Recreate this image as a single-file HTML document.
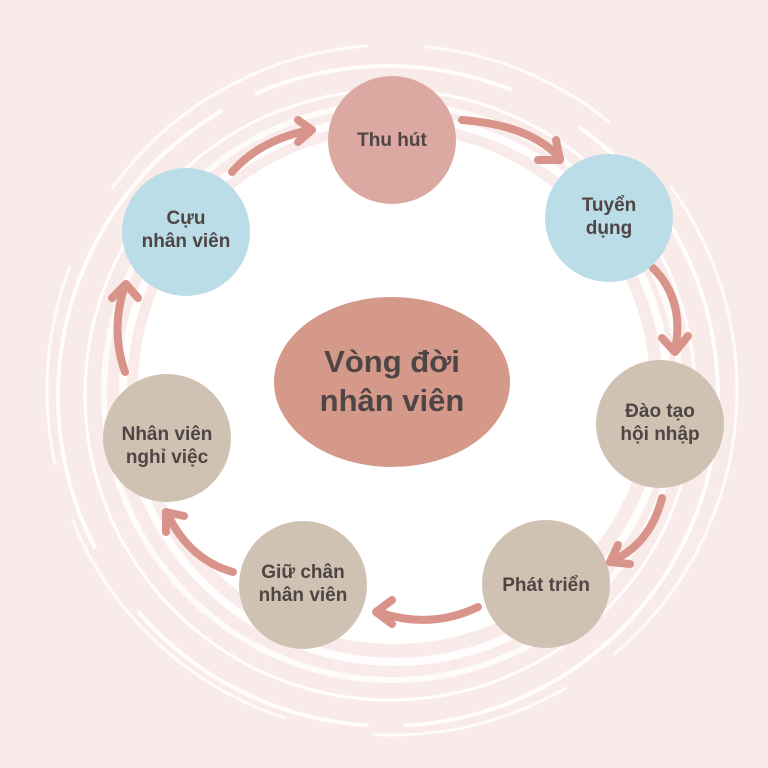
<!DOCTYPE html>
<html><head><meta charset="utf-8"><style>
body{margin:0;width:768px;height:768px;background:#f9ebe9;overflow:hidden}
svg{display:block}
text{font-family:"Liberation Sans","DejaVu Sans",sans-serif;font-weight:bold;fill:#4f4545;text-anchor:middle}
</style></head><body>
<svg width="768" height="768" viewBox="0 0 768 768">
<g fill="none" stroke="#fff" stroke-linecap="round">
<circle cx="392" cy="390" r="345" stroke-width="3" opacity="0.8" stroke-dasharray="300 60 200 90"/>
<circle cx="388" cy="396" r="330" stroke-width="4" opacity="0.9" stroke-dasharray="500 40 260 80"/>
<circle cx="390" cy="395" r="305" stroke-width="3" opacity="0.9"/>
<circle cx="392" cy="392" r="288" stroke-width="6" opacity="0.8"/>
<circle cx="395" cy="390" r="272" stroke-width="8" opacity="0.9"/>
</g>
<circle cx="394" cy="388" r="256" fill="#fff"/>
<g fill="none" stroke="#d8948a" stroke-width="8" stroke-linecap="round" stroke-linejoin="round">
<path d="M462 120 Q530 125 560 158"/><polyline points="538,160 560,160 556,140"/>
<path d="M653 268 Q685 300 675 350"/><polyline points="662,338 675,352 688,336"/>
<path d="M662 498 Q650 545 610 562"/><polyline points="618,545 610,562 630,564"/>
<path d="M478 607 Q430 630 378 612"/><polyline points="392,600 376,612 392,624"/>
<path d="M233 572 Q190 560 168 515"/><polyline points="166,532 166,512 184,516"/>
<path d="M125 372 Q110 330 125 285"/><polyline points="112,298 126,284 138,298"/>
<path d="M232 172 Q260 140 310 130"/><polyline points="298,120 312,130 298,142"/>
</g>
<circle cx="392" cy="140" r="64" fill="#dba9a1"/>
<circle cx="609" cy="218" r="64" fill="#badde8"/>
<circle cx="660" cy="424" r="64" fill="#d0c2b2"/>
<circle cx="546" cy="584" r="64" fill="#d0c2b2"/>
<circle cx="303" cy="585" r="64" fill="#d0c2b2"/>
<circle cx="167" cy="438" r="64" fill="#d0c2b2"/>
<circle cx="186" cy="232" r="64" fill="#badde8"/>
<ellipse cx="392" cy="382" rx="118" ry="85" fill="#d5998a"/>
<text x="392" y="372" font-size="31">Vòng đời</text>
<text x="392" y="411" font-size="31">nhân viên</text>
<g font-size="19">
<text x="392" y="146">Thu hút</text>
<text x="609" y="211">Tuyển</text><text x="609" y="234">dụng</text>
<text x="660" y="417">Đào tạo</text><text x="660" y="440">hội nhập</text>
<text x="546" y="591">Phát triển</text>
<text x="303" y="578">Giữ chân</text><text x="303" y="601">nhân viên</text>
<text x="167" y="440">Nhân viên</text><text x="167" y="463">nghỉ việc</text>
<text x="186" y="224">Cựu</text><text x="186" y="247">nhân viên</text>
</g>
</svg>
</body></html>
